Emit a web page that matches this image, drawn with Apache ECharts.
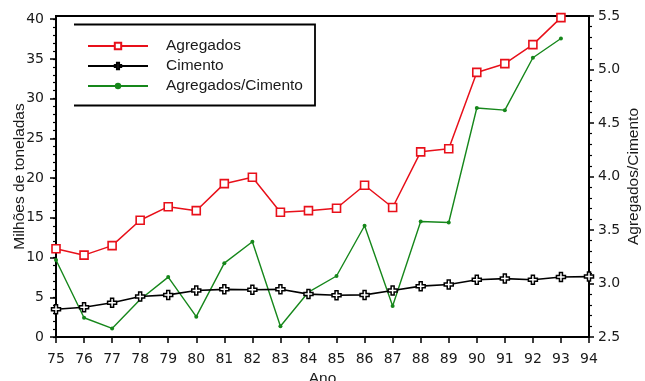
<!DOCTYPE html>
<html>
<head>
<meta charset="utf-8">
<script src="https://cdn.jsdelivr.net/npm/echarts@6/dist/echarts.min.js"></script>
<style>
  html, body { margin: 0; padding: 0; background: #fff; }
  #grafico { width: 645px; height: 381px; }
</style>
</head>
<body>
<div id="grafico"></div>
<script>
// Anos (eixo x)
const anos = ['75','76','77','78','79','80','81','82','83','84','85','86','87','88','89','90','91','92','93','94'];

// Produção de agregados (milhões de toneladas)
const agregados = [11.1, 10.3, 11.5, 14.7, 16.4, 15.9, 19.3, 20.1, 15.7, 15.9, 16.2, 19.1, 16.3, 23.3, 23.7, 33.3, 34.4, 36.8, 40.2];

// Produção de cimento (milhões de toneladas)
const cimento = [3.5, 3.75, 4.3, 5.1, 5.3, 5.85, 6.0, 5.95, 6.0, 5.4, 5.25, 5.3, 5.85, 6.4, 6.6, 7.2, 7.35, 7.2, 7.55, 7.6];

// Razão agregados/cimento (eixo da direita)
const razao = [3.22, 2.68, 2.58, 2.85, 3.06, 2.69, 3.19, 3.39, 2.60, 2.92, 3.07, 3.54, 2.79, 3.58, 3.57, 4.64, 4.62, 5.11, 5.29];

// Marcas dos eixos
const marcasEsquerda = [0, 5, 10, 15, 20, 25, 30, 35, 40];
const marcasDireita = [2.5, 3.0, 3.5, 4.0, 4.5, 5.0, 5.5];

const marcasMenores = [];
for (let v = 0; v <= 40; v += 1) marcasMenores.push(v);

const fonteNum = { fontFamily: 'DejaVu Sans', fontSize: 14, color: '#1a1a1a' };
const fonteTxt = { fontFamily: 'Liberation Sans', fontSize: 15.5, color: '#1a1a1a' };

const cruz = 'path://M3,0H6V3H9V6H6V9H3V6H0V3H3Z';

const chart = echarts.init(document.getElementById('grafico'), null, { renderer: 'canvas' });

chart.setOption({
  animation: false,
  backgroundColor: '#fff',
  grid: {
    left: 56, right: 56, top: 16, bottom: 44,
    outerBoundsMode: 'none',
    containLabel: false,
    show: true, borderColor: '#000', borderWidth: 2, backgroundColor: 'transparent'
  },
  legend: {
    orient: 'vertical',
    left: 87, top: 38,
    padding: 0,
    itemWidth: 60, itemHeight: 8,
    itemGap: 4,
    textStyle: Object.assign({}, fonteTxt, { padding: [0, 0, 0, 13], lineHeight: 16 }),
    data: ['Agregados', 'Cimento', 'Agregados/Cimento']
  },
  graphic: [{
    type: 'polyline',
    silent: true,
    shape: { points: [[74, 24.5], [315, 24.5], [315, 105.5], [74, 105.5]] },
    style: { stroke: '#000', lineWidth: 1.8, fill: null }
  }],
  xAxis: {
    type: 'category',
    data: anos,
    boundaryGap: false,
    name: 'Ano',
    nameLocation: 'middle',
    nameGap: 34,
    nameMoveOverlap: false,
    nameTextStyle: fonteTxt,
    axisLine: { lineStyle: { color: '#000', width: 2 } },
    axisTick: { show: true, length: 6, alignWithLabel: true, lineStyle: { color: '#000', width: 1.5 } },
    axisLabel: Object.assign({ margin: 15, interval: 0 }, fonteNum),
    splitLine: { show: false }
  },
  yAxis: [{
    type: 'value',
    position: 'left',
    min: 0, max: 40.4,
    interval: 5,
    name: 'Milhões de toneladas',
    nameLocation: 'middle',
    nameGap: 28,
    nameMoveOverlap: false,
    nameTextStyle: fonteTxt,
    axisLine: { show: true, lineStyle: { color: '#000', width: 2 } },
    axisTick: { show: true, length: 6, customValues: marcasEsquerda, lineStyle: { color: '#000', width: 1.5 } },
    axisLabel: Object.assign({ margin: 12, customValues: marcasEsquerda }, fonteNum),
    splitLine: { show: false }
  }, {
    type: 'value',
    position: 'right',
    min: 2.5, max: 5.5,
    interval: 0.5,
    name: 'Agregados/Cimento',
    nameLocation: 'middle',
    nameGap: 37,
    nameMoveOverlap: false,
    nameTextStyle: fonteTxt,
    axisLine: { show: true, lineStyle: { color: '#000', width: 2 } },
    axisTick: { show: true, length: 5, lineStyle: { color: '#000', width: 1.5 } },
    minorTick: { show: true, splitNumber: 5, length: 3, lineStyle: { color: '#000', width: 1.2 } },
    axisLabel: Object.assign({ margin: 9, formatter: v => v.toFixed(1) }, fonteNum),
    splitLine: { show: false }
  }, {
    // marcas menores do eixo da esquerda
    type: 'value',
    position: 'left',
    min: 0, max: 40.4,
    axisLine: { show: false },
    axisTick: { show: true, length: 3, customValues: marcasMenores, lineStyle: { color: '#000', width: 1.2 } },
    axisLabel: { show: false },
    splitLine: { show: false }
  }],
  series: [{
    name: 'Agregados',
    type: 'line',
    yAxisIndex: 0,
    data: agregados,
    symbol: 'rect',
    symbolSize: 8,
    showAllSymbol: true,
    lineStyle: { color: '#e8101a', width: 1.5 },
    itemStyle: { color: '#fff', borderColor: '#e8101a', borderWidth: 1.6 },
    z: 3
  }, {
    name: 'Cimento',
    type: 'line',
    yAxisIndex: 0,
    data: cimento,
    symbol: cruz,
    symbolSize: 9,
    showAllSymbol: true,
    lineStyle: { color: '#000', width: 1.6 },
    itemStyle: { color: '#fff', borderColor: '#000', borderWidth: 1.5 },
    z: 4
  }, {
    name: 'Agregados/Cimento',
    type: 'line',
    yAxisIndex: 1,
    data: razao,
    symbol: 'circle',
    symbolSize: 4,
    showAllSymbol: true,
    lineStyle: { color: '#16871b', width: 1.4 },
    itemStyle: { color: '#16871b' },
    z: 2
  }]
});
</script>
</body>
</html>
